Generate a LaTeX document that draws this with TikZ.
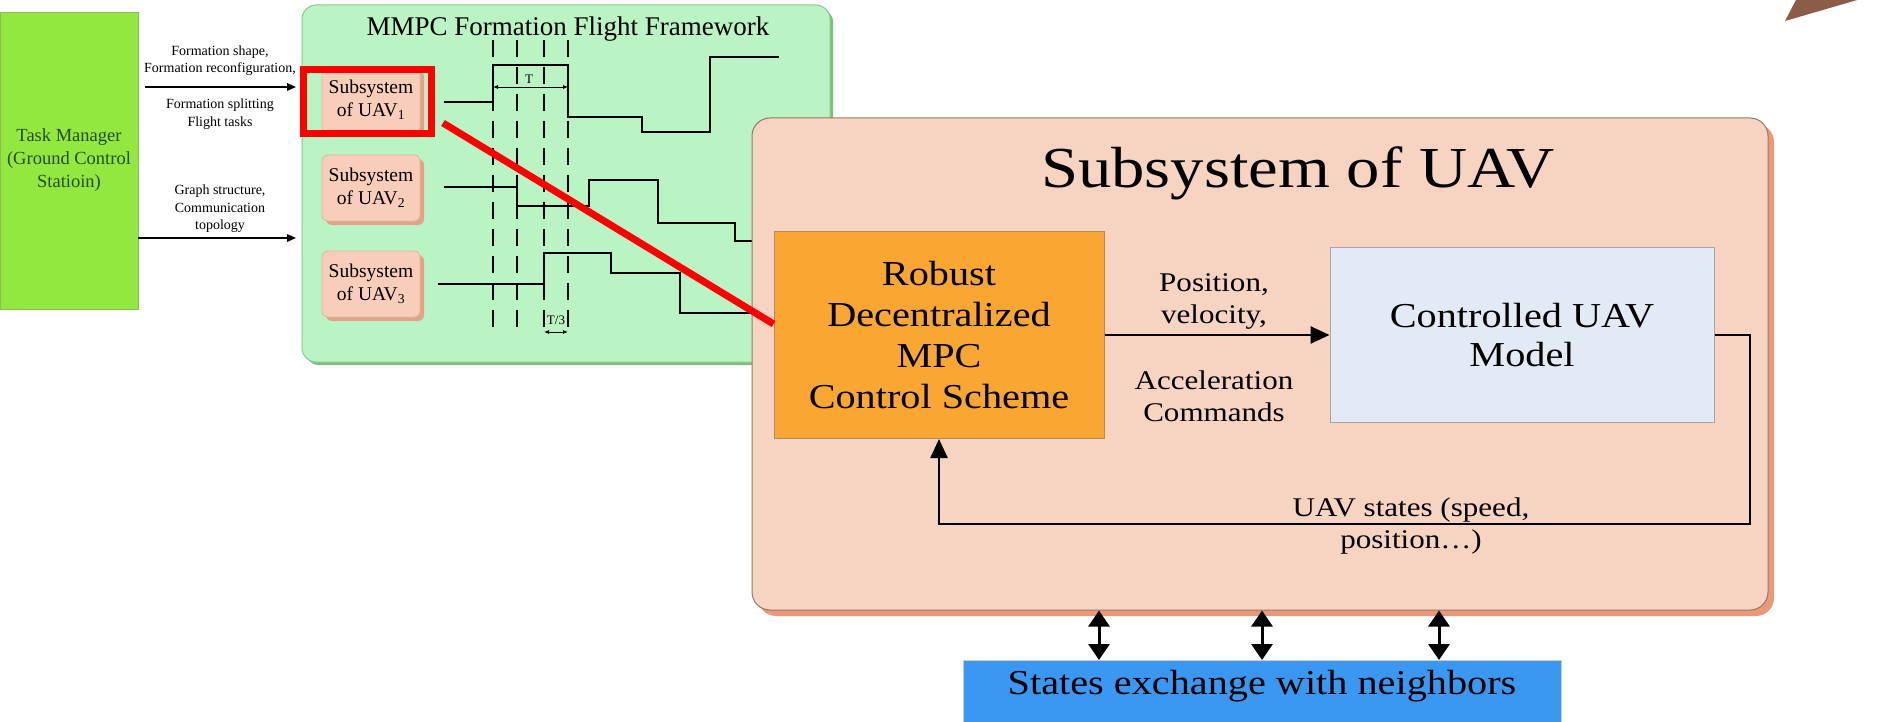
\documentclass[tikz,border=0pt]{standalone}
\usepackage{fontspec}
\setmainfont{Liberation Serif}
\newfontfamily\wideserif{Liberation Serif}[FakeStretch=1.15]
\usepackage{tikz}
\usetikzlibrary{arrows.meta, positioning, shadows}
\definecolor{taskgreen}{RGB}{146,232,62}
\definecolor{taskink}{RGB}{38,78,28}
\definecolor{framegreen}{RGB}{186,243,196}
\definecolor{frameline}{RGB}{140,200,145}
\definecolor{frameshadow}{RGB}{128,190,128}
\definecolor{subfill}{RGB}{248,206,186}
\definecolor{subline}{RGB}{232,178,156}
\definecolor{subshadow}{RGB}{226,164,136}
\definecolor{uavfill}{RGB}{247,212,193}
\definecolor{uavline}{RGB}{150,120,105}
\definecolor{uavshadow}{RGB}{236,152,118}
\definecolor{mpcorange}{RGB}{250,166,50}
\definecolor{mpcline}{RGB}{185,135,85}
\definecolor{modelblue}{RGB}{226,234,246}
\definecolor{nbrblue}{RGB}{58,152,242}
\definecolor{tipbrown}{RGB}{140,92,72}

\begin{document}
\begin{tikzpicture}[
  x=1pt, y=-1pt,
  >={Triangle[length=19pt,width=17pt]},
  taskbox/.style={rectangle, fill=taskgreen, draw=taskgreen!60!gray, line width=0.8, minimum width=138, minimum height=297, inner sep=0pt, align=center, text=taskink, font=\fontsize{18.5}{23}\selectfont},
  cmdlabel/.style={align=center, inner sep=0pt, font=\fontsize{14}{17.5}\selectfont},
  cmdarrow/.style={-{Triangle[length=9pt,width=7.5pt]}, line width=1.5},
  framebox/.style={rectangle, rounded corners=14, fill=framegreen, draw=frameline, line width=1, minimum width=528, minimum height=357, drop shadow={opacity=1, fill=frameshadow, shadow xshift=3pt, shadow yshift=-3pt}},
  frametitle/.style={inner sep=0pt, font=\fontsize{27}{32}\selectfont},
  subbox/.style={rectangle, rounded corners=6, fill=subfill, draw=subline, line width=0.8, minimum width=98, minimum height=66, inner sep=0pt, align=center, font=\fontsize{19.5}{23}\selectfont, drop shadow={opacity=1, fill=subshadow, shadow xshift=4pt, shadow yshift=-4pt}},
  gridline/.style={line width=2.5, dash pattern=on 17pt off 10pt},
  sigline/.style={line width=2.5, line join=miter},
  dimline/.style={{Latex[length=5pt,width=4pt]}-{Latex[length=5pt,width=4pt]}, line width=0.8},
  dimlabel/.style={inner sep=0pt, font=\fontsize{13}{15}\selectfont},
  uavbox/.style={rectangle, rounded corners=18, fill=uavfill, draw=uavline, line width=1, minimum width=1016, minimum height=492, drop shadow={opacity=1, fill=uavshadow, shadow xshift=6pt, shadow yshift=-6pt}},
  uavtitle/.style={inner sep=0pt, font=\wideserif\fontsize{58}{64}\selectfont},
  mpcbox/.style={rectangle, fill=mpcorange, draw=mpcline, line width=1, minimum width=330, minimum height=207, inner sep=0pt, align=center, font=\wideserif\fontsize{35}{41}\selectfont},
  modelbox/.style={rectangle, fill=modelblue, draw=gray!70, line width=1, minimum width=384, minimum height=175, inner sep=0pt, align=center, font=\wideserif\fontsize{35}{39}\selectfont},
  flowarrow/.style={->, line width=2.5},
  flowlabel/.style={align=center, inner sep=0pt, font=\wideserif\fontsize{27}{32}\selectfont},
  nbrbox/.style={rectangle, fill=nbrblue, draw=gray!40, line width=1, minimum width=598, inner xsep=0pt, inner ysep=6pt, text height=28pt, text depth=52pt, font=\wideserif\fontsize{35}{41}\selectfont},
  exchange/.style={{Triangle[length=16pt,width=21pt]}-{Triangle[length=16pt,width=21pt]}, line width=3},
  zoomframe/.style={rectangle, draw=red, line width=7, minimum width=128, minimum height=64, inner sep=0pt},
  zoomline/.style={red, line width=7},
]
  \useasboundingbox (0,0) rectangle (1884,722);
  \clip (0,0) rectangle (1884,722);
  \fill[white] (0,0) rectangle (1884,722);

  % Task manager and what it sends
  \node[taskbox] (tm) at (69,160.5) {Task Manager\\(Ground Control\\Statioin)};
  \coordinate (cmd1) at (296,87);
  \coordinate (cmd2) at (296,238);
  \draw[cmdarrow, shorten <=7pt] (tm.east |- cmd1) -- (cmd1);
  \draw[cmdarrow] (tm.east |- cmd2) -- (cmd2);
  \node[cmdlabel] (lab1) at (220,60.5) {Formation shape,\\Formation reconfiguration,};
  \node[cmdlabel] (lab2) at (220,114) {Formation splitting\\Flight tasks};
  \node[cmdlabel] (lab3) at (220,209) {Graph structure,\\Communication\\topology};

  % MMPC framework
  \node[framebox] (frame) at (566,183.5) {};
  \node[frametitle, anchor=base] (ftitle) at (568,36) {MMPC Formation Flight Framework};
  \node[subbox] (sub1) at (371,100) {Subsystem\\of UAV\textsubscript{1}};
  \node[subbox] (sub2) at (371,188) {Subsystem\\of UAV\textsubscript{2}};
  \node[subbox] (sub3) at (371,284) {Subsystem\\of UAV\textsubscript{3}};

  % Sampling instants
  \draw[gridline] (493,40) -- (493,335);
  \draw[gridline] (517,40) -- (517,335);
  \draw[gridline] (544,40) -- (544,335);
  \draw[gridline] (568,40) -- (568,335);

  % Control inputs of UAV 1, 2, 3
  \draw[sigline] (444,102) -- (493,102) -- (493,65) -- (568,65) -- (568,117) -- (642,117) -- (642,132) -- (710,132) -- (710,57) -- (779,57);
  \draw[sigline] (444,187) -- (517,187) -- (517,206) -- (589,206) -- (589,180) -- (658,180) -- (658,223) -- (735,223) -- (735,241) -- (770,241);
  \draw[sigline] (438,284) -- (544,284) -- (544,253) -- (611,253) -- (611,273) -- (680,273) -- (680,313) -- (770,313);

  % Period marks
  \draw[dimline] (493,87) -- (568,87);
  \node[dimlabel] (tlab) at (529,79) {T};
  \draw[dimline] (544,332) -- (568,332);
  \node[dimlabel] (t3lab) at (556,320) {T/3};

  % Subsystem of UAV (zoomed)
  \node[uavbox] (uav) at (1260,364) {};
  \node[uavtitle, anchor=base] (utitle) at (1298,188) {Subsystem of UAV};
  \node[mpcbox] (mpc) at (939,335) {Robust\\Decentralized\\MPC\\Control Scheme};
  \node[modelbox] (model) at (1522,335) {Controlled UAV\\Model};
  \draw[flowarrow] (mpc.east) -- (model.west);
  \node[flowlabel] (lab4) at (1214,301) {Position,\\velocity,};
  \node[flowlabel] (lab5) at (1214,396) {Acceleration\\Commands};
  \coordinate (fb) at (1750,524);
  \draw[flowarrow] (model.east) -| (fb) -| (mpc.south);
  \node[flowlabel] (lab6) at (1411,526) {UAV states (speed,\\position…)};

  % Exchange with neighbors
  \node[nbrbox, anchor=north] (nbr) at (1262,660) {States exchange with neighbors};
  \coordinate (ex1) at (1099,0);
  \coordinate (ex2) at (1262,0);
  \coordinate (ex3) at (1439,0);
  \draw[exchange] (ex1 |- uav.south) -- (ex1 |- nbr.north);
  \draw[exchange] (ex2 |- uav.south) -- (ex2 |- nbr.north);
  \draw[exchange] (ex3 |- uav.south) -- (ex3 |- nbr.north);

  % Highlight of UAV 1
  \node[zoomframe] (sel) at (367.5,101.5) {};
  \coordinate (zoomfrom) at (443,123);
  \draw[zoomline] (zoomfrom) -- ([yshift=11pt]mpc.west);

  % Corner tip
  \fill[tipbrown] (1785,21) -- (1797,-2) -- (1864,-2) -- cycle;
\end{tikzpicture}
\end{document}
